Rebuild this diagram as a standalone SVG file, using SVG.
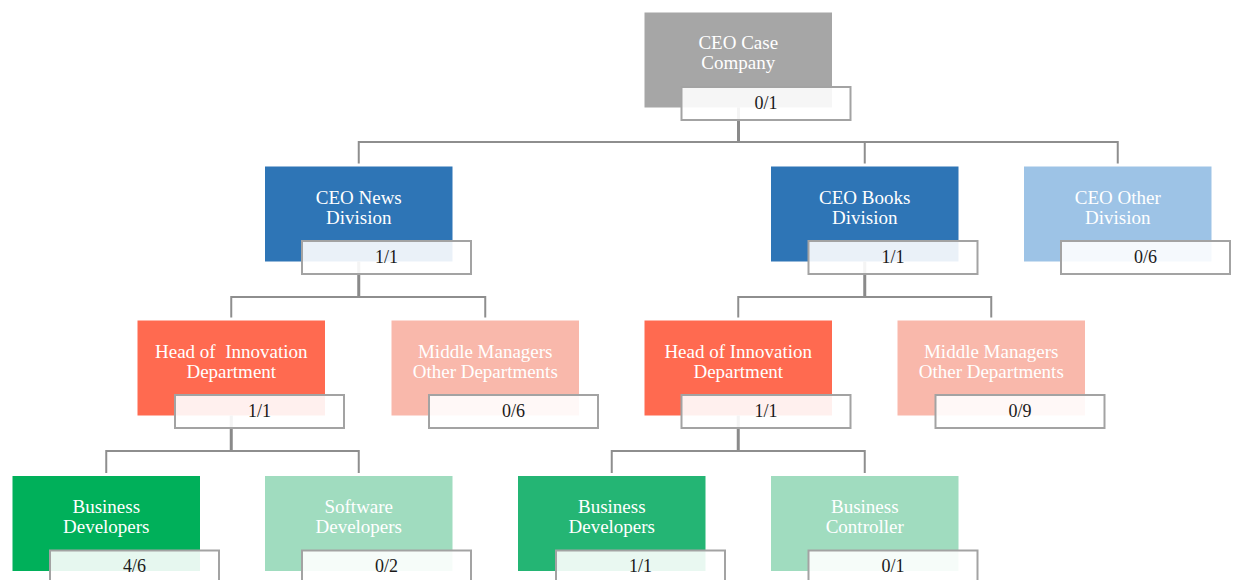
<svg xmlns="http://www.w3.org/2000/svg" width="1233" height="580" viewBox="0 0 1233 580">
  <style>
    .card { stroke: none; }
    .tag { fill: #ffffff; fill-opacity: 0.9; stroke: #a3a3a3; stroke-width: 2; }
    .name { font-family: "Liberation Serif", "Times New Roman", serif; font-size: 19px; fill: #ffffff; text-anchor: middle; }
    .count { font-family: "Liberation Serif", "Times New Roman", serif; font-size: 18px; fill: #1a1a1a; text-anchor: middle; }
    .bus { fill: none; stroke: #8e8e8e; stroke-width: 2; }
    .stem { fill: none; stroke: #8a8a8a; stroke-width: 3; }
    .gray { fill: #a6a6a6; }
    .blue { fill: #2e75b6; }
    .sky { fill: #9dc3e6; }
    .coral { fill: #ff6a50; }
    .salmon { fill: #f9b8ab; }
    .green { fill: #00b05a; }
    .green2 { fill: #24b574; }
    .mint { fill: #a0dcbf; }
  </style>

  <!-- coloured cards (drawn first so connectors and count tags sit above) -->
  <g id="cards">
    <rect class="card gray" x="644.5" y="12.5" width="187.5" height="95"/>
    <rect class="card blue" x="265" y="166.5" width="187.5" height="95"/>
    <rect class="card blue" x="771" y="166.5" width="187.5" height="95"/>
    <rect class="card sky" x="1024" y="166.5" width="187.5" height="95"/>
    <rect class="card coral" x="137.5" y="320.5" width="187.5" height="95"/>
    <rect class="card salmon" x="391.5" y="320.5" width="187.5" height="95"/>
    <rect class="card coral" x="644.5" y="320.5" width="187.5" height="95"/>
    <rect class="card salmon" x="897.5" y="320.5" width="187.5" height="95"/>
    <rect class="card green" x="12.5" y="476" width="187.5" height="95"/>
    <rect class="card mint" x="265" y="476" width="187.5" height="95"/>
    <rect class="card green2" x="518" y="476" width="187.5" height="95"/>
    <rect class="card mint" x="771" y="476" width="187.5" height="95"/>
  </g>

  <!-- connectors: stem from parent, horizontal bus, drops to children -->
  <g id="connectors">
    <path class="stem" d="M738.5 107.5 V142"/>
    <path class="bus" d="M358.75 163.5 V142 H1117.75 V163.5 M864.75 142 V163.5"/>

    <path class="stem" d="M358.75 261.5 V297"/>
    <path class="bus" d="M231.25 317.5 V297 H485.25 V317.5"/>

    <path class="stem" d="M864.75 261.5 V297"/>
    <path class="bus" d="M738.25 317.5 V297 H991.25 V317.5"/>

    <path class="stem" d="M231.25 415.5 V451"/>
    <path class="bus" d="M106.25 473 V451 H358.75 V473"/>

    <path class="stem" d="M738.25 415.5 V451"/>
    <path class="bus" d="M611.75 473 V451 H864.75 V473"/>
  </g>

  <g id="ceo-case-company">
    <text class="name" x="738.25" y="49">CEO Case</text>
    <text class="name" x="738.25" y="69">Company</text>
    <rect class="tag" x="681.5" y="87" width="169" height="33"/>
    <text class="count" x="766" y="108.5">0/1</text>
  </g>

  <g id="ceo-news-division">
    <text class="name" x="358.75" y="203.5">CEO News</text>
    <text class="name" x="358.75" y="223.5">Division</text>
    <rect class="tag" x="302" y="241" width="169" height="33"/>
    <text class="count" x="386.5" y="262.5">1/1</text>
  </g>

  <g id="ceo-books-division">
    <text class="name" x="864.75" y="203.5">CEO Books</text>
    <text class="name" x="864.75" y="223.5">Division</text>
    <rect class="tag" x="808.5" y="241" width="169" height="33"/>
    <text class="count" x="893" y="262.5">1/1</text>
  </g>

  <g id="ceo-other-division">
    <text class="name" x="1117.75" y="203.5">CEO Other</text>
    <text class="name" x="1117.75" y="223.5">Division</text>
    <rect class="tag" x="1061" y="241" width="169" height="33"/>
    <text class="count" x="1145.5" y="262.5">0/6</text>
  </g>

  <g id="head-innovation-news">
    <text class="name" x="231.25" y="357.5" xml:space="preserve">Head of  Innovation</text>
    <text class="name" x="231.25" y="377.5">Department</text>
    <rect class="tag" x="175" y="395" width="169" height="33"/>
    <text class="count" x="259.5" y="416.5">1/1</text>
  </g>

  <g id="middle-managers-news">
    <text class="name" x="485.25" y="357.5">Middle Managers</text>
    <text class="name" x="485.25" y="377.5">Other Departments</text>
    <rect class="tag" x="429" y="395" width="169" height="33"/>
    <text class="count" x="513.5" y="416.5">0/6</text>
  </g>

  <g id="head-innovation-books">
    <text class="name" x="738.25" y="357.5">Head of Innovation</text>
    <text class="name" x="738.25" y="377.5">Department</text>
    <rect class="tag" x="681.5" y="395" width="169" height="33"/>
    <text class="count" x="766" y="416.5">1/1</text>
  </g>

  <g id="middle-managers-books">
    <text class="name" x="991.25" y="357.5">Middle Managers</text>
    <text class="name" x="991.25" y="377.5">Other Departments</text>
    <rect class="tag" x="935.5" y="395" width="169" height="33"/>
    <text class="count" x="1020" y="416.5">0/9</text>
  </g>

  <g id="business-developers-news">
    <text class="name" x="106.25" y="513">Business</text>
    <text class="name" x="106.25" y="533">Developers</text>
    <rect class="tag" x="50" y="550.5" width="169" height="33"/>
    <text class="count" x="134.5" y="572">4/6</text>
  </g>

  <g id="software-developers-news">
    <text class="name" x="358.75" y="513">Software</text>
    <text class="name" x="358.75" y="533">Developers</text>
    <rect class="tag" x="302" y="550.5" width="169" height="33"/>
    <text class="count" x="386.5" y="572">0/2</text>
  </g>

  <g id="business-developers-books">
    <text class="name" x="611.75" y="513">Business</text>
    <text class="name" x="611.75" y="533">Developers</text>
    <rect class="tag" x="556" y="550.5" width="169" height="33"/>
    <text class="count" x="640.5" y="572">1/1</text>
  </g>

  <g id="business-controller-books">
    <text class="name" x="864.75" y="513">Business</text>
    <text class="name" x="864.75" y="533">Controller</text>
    <rect class="tag" x="808.5" y="550.5" width="169" height="33"/>
    <text class="count" x="893" y="572">0/1</text>
  </g>
</svg>
